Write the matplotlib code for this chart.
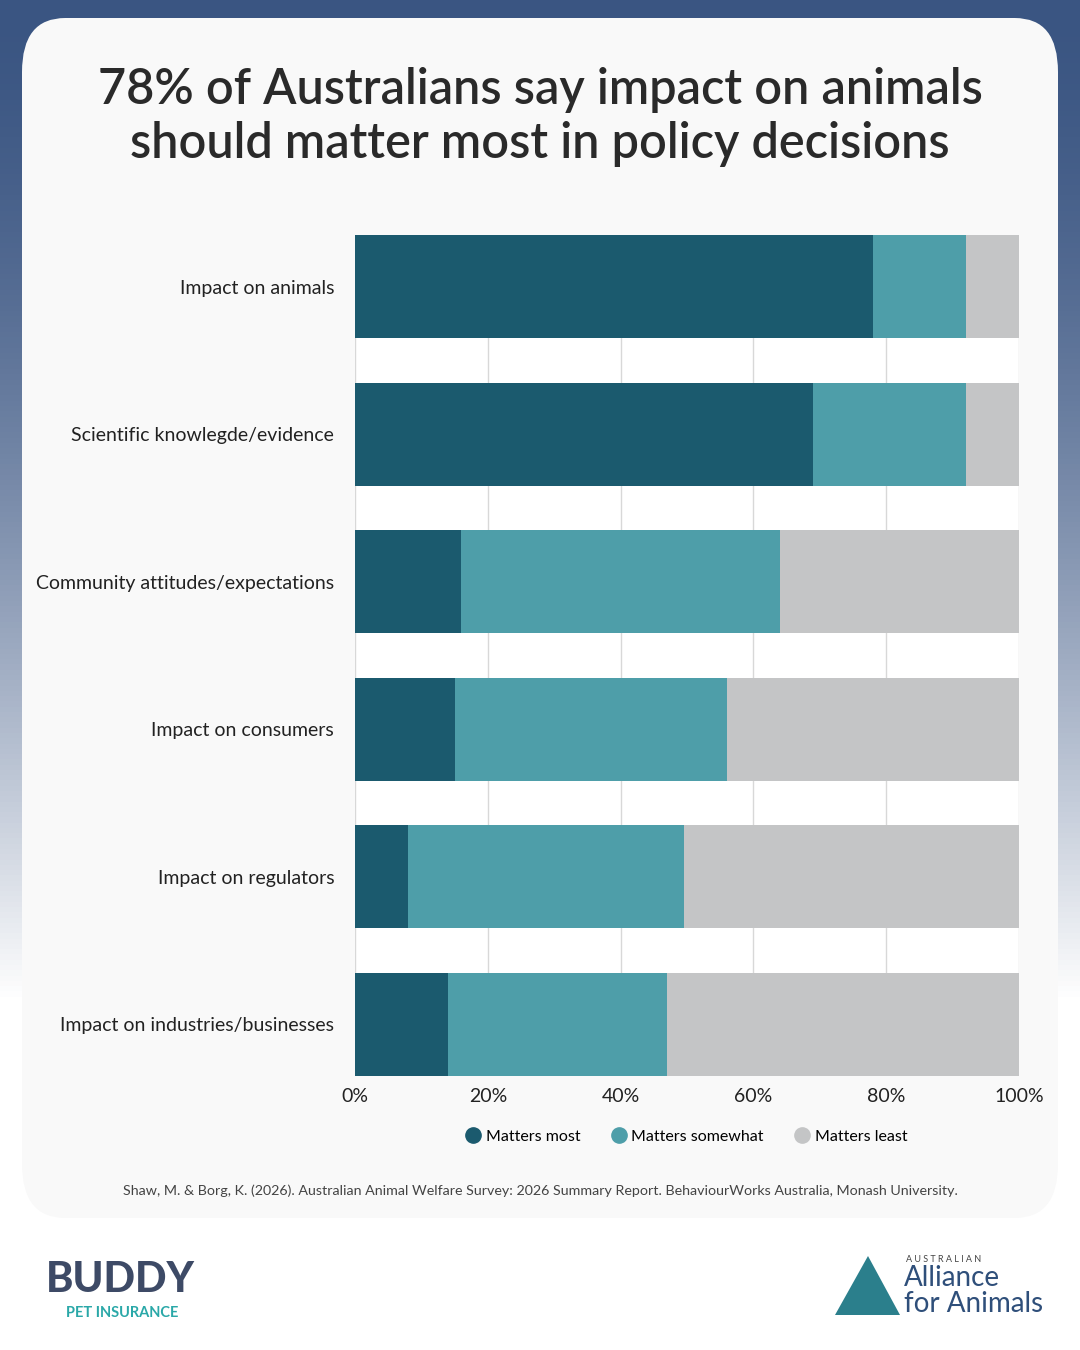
import matplotlib.pyplot as plt
import numpy as np
from matplotlib.patches import FancyBboxPatch, Polygon
from matplotlib.lines import Line2D

plt.rcParams['font.family'] = ['Lato', 'DejaVu Sans']

categories = ["Impact on animals", "Scientific knowlegde/evidence",
              "Community attitudes/expectations", "Impact on consumers",
              "Impact on regulators", "Impact on industries/businesses"]
most = [78, 69, 16, 15, 8, 14]
somewhat = [14, 23, 48, 41, 41.5, 33]
least = [8, 8, 36, 44, 50.5, 53]
series_names = ["Matters most", "Matters somewhat", "Matters least"]
colors = ["#1b5a6e", "#4e9ea9", "#c4c5c6"]

fig = plt.figure(figsize=(10.8, 13.5), dpi=100)

# gradient background
bg = fig.add_axes([0, 0, 1, 1], zorder=-10)
grad = np.linspace(0, 1, 256).reshape(-1, 1)
top = np.array([0x3a, 0x55, 0x82]) / 255
bottom = np.array([1.0, 1.0, 1.0])
w = np.clip(grad * 1.35, 0, 1) ** 1.6
img = top * (1 - w) + bottom * w
bg.imshow(img.reshape(256, 1, 3), aspect='auto', extent=[0, 1, 0, 1])
bg.set_xlim(0, 1)
bg.set_ylim(0, 1)
bg.axis('off')
card = FancyBboxPatch((22 / 1080, 1 - 1218 / 1350), 1036 / 1080, 1200 / 1350,
                      boxstyle="round,pad=0,rounding_size=0.04",
                      transform=bg.transAxes, fc="#f9f9f9", ec="none")
bg.add_patch(card)

fig.text(0.5, 1 - 117 / 1350, "78% of Australians say impact on animals\nshould matter most in policy decisions",
         ha='center', va='center', fontsize=35, fontweight='semibold', color='#2a2a2a',
         linespacing=1.2)

ax = fig.add_axes([355 / 1080, 1 - 1076 / 1350, 664 / 1080, 841 / 1350])
ax.set_facecolor("white")
y = np.arange(len(categories))
ax.barh(y, most, height=0.7, color=colors[0], zorder=3)
ax.barh(y, somewhat, left=most, height=0.7, color=colors[1], zorder=3)
left2 = [a + b for a, b in zip(most, somewhat)]
ax.barh(y, least, left=left2, height=0.7, color=colors[2], zorder=3)
ax.set_ylim(len(categories) - 0.65, -0.35)
ax.set_xlim(0, 100)
ax.set_yticks(y)
ax.set_yticklabels(categories, fontsize=14, color='#222222')
ax.set_xticks(range(0, 101, 20))
ax.set_xticklabels([f"{v}%" for v in range(0, 101, 20)], fontsize=14, color='#222222')
ax.tick_params(length=0, pad=15)
ax.tick_params(axis='x', pad=9)
ax.grid(axis='x', color='#d8d8d8', lw=1, zorder=0)
for s in ax.spines.values():
    s.set_visible(False)

handles = [Line2D([], [], marker='o', ls='none', ms=11, color=c) for c in colors]
ax.legend(handles, series_names, loc='center', bbox_to_anchor=(0.5, -0.072), ncol=3,
          frameon=False, fontsize=11.5, handlelength=0.8, handletextpad=0.4,
          columnspacing=2.0)
fig.text(0.5, 1 - 1191 / 1350,
         "Shaw, M. & Borg, K. (2026). Australian Animal Welfare Survey: 2026 Summary Report. BehaviourWorks Australia, Monash University.",
         ha='center', va='center', fontsize=10.3, color='#444444')

# logos approximated with text
fig.text(120 / 1080, 1 - 1280 / 1350, "BUDDY", ha='center', va='center',
         fontsize=30, fontweight='black', color='#3d4a66')
fig.text(122 / 1080, 1 - 1313 / 1350, "PET INSURANCE", ha='center', va='center',
         fontsize=10.5, fontweight='bold', color='#2aa8a8')
tri = Polygon([(835 / 1080, 1 - 1315 / 1350), (868 / 1080, 1 - 1256 / 1350),
               (900 / 1080, 1 - 1315 / 1350)], closed=True, transform=bg.transAxes,
              fc='#2b7f8c', ec='none')
bg.add_patch(tri)
fig.text(944 / 1080, 1 - 1259 / 1350, "A U S T R A L I A N", ha='center', va='center',
         fontsize=6.5, color='#444444')
fig.text(904 / 1080, 1 - 1278 / 1350, "Alliance", ha='left', va='center',
         fontsize=20, color='#2f4f7a')
fig.text(904 / 1080, 1 - 1304 / 1350, "for Animals", ha='left', va='center',
         fontsize=20, color='#2f4f7a')

fig.savefig("out.png", dpi=100)
